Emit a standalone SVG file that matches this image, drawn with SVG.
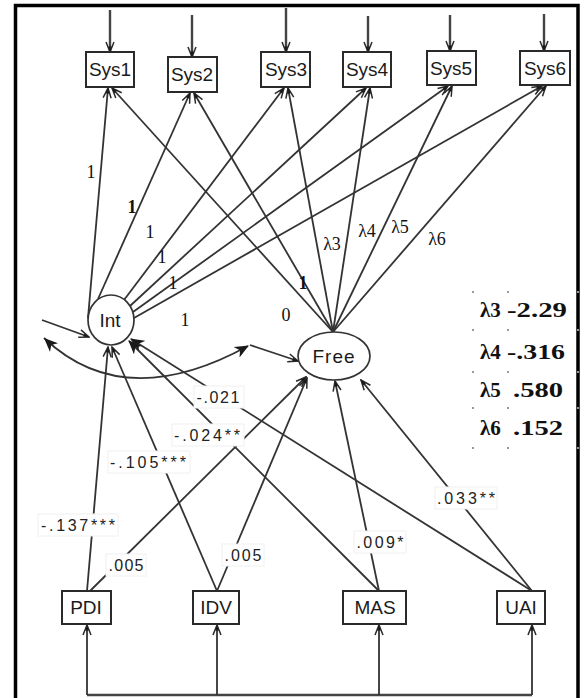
<svg xmlns="http://www.w3.org/2000/svg" width="586" height="698" viewBox="0 0 586 698">
<defs>
<marker id="arr" viewBox="0 0 12 10" refX="11" refY="5" markerWidth="12" markerHeight="10" markerUnits="userSpaceOnUse" orient="auto">
<path d="M1,1 L11,5 L1,9" fill="none" stroke="#2a2a2a" stroke-width="1.5"/>
<path d="M5.5,3.2 L11,5 L5.5,6.8 Z" fill="#1a1a1a"/>
</marker>
<marker id="arrf" viewBox="0 0 14 12" refX="13" refY="6" markerWidth="14" markerHeight="12" markerUnits="userSpaceOnUse" orient="auto">
<path d="M0,0 L14,6 L0,12 L4,6 Z" fill="#1a1a1a"/>
</marker>
<marker id="arrfs" viewBox="0 0 14 12" refX="0" refY="6" markerWidth="14" markerHeight="12" markerUnits="userSpaceOnUse" orient="auto">
<path d="M14,0 L0,6 L14,12 L10,6 Z" fill="#1a1a1a"/>
</marker>
</defs>
<style>
.box{fill:#fff;stroke:#2a2a2a;stroke-width:2}
.ell{fill:#fff;stroke:#333;stroke-width:1.7}
.lbl{font-family:"Liberation Sans",Arial,sans-serif;font-size:19px;fill:#1a1a1a;text-anchor:middle}
.ln{fill:none;stroke:#333;stroke-width:1.8}
.ln2{fill:none;stroke:#444;stroke-width:2.4}
.one{font-family:"Liberation Serif","Times New Roman",serif;font-size:18px;fill:#111;text-anchor:middle}
.coef{font-family:"Liberation Sans",Arial,sans-serif;font-size:16px;fill:#222;text-anchor:middle}
.cbg{fill:#fff;stroke:#f0f0f0;stroke-width:1}
.tbl{font-family:"Liberation Serif","Times New Roman",serif;font-size:21px;font-weight:bold;fill:#111}
.dot{fill:#999}
</style>
<rect x="0" y="0" width="586" height="698" fill="#fff"/>
<path d="M15.5,698 V5.5 H578 V698" fill="none" stroke="#000" stroke-width="3.5"/>

<g id="connectors">
<line class="ln2" x1="110" y1="10" x2="110" y2="52" marker-end="url(#arr)"/>
<line class="ln2" x1="192" y1="15" x2="192" y2="57" marker-end="url(#arr)"/>
<line class="ln2" x1="286" y1="8" x2="286" y2="52" marker-end="url(#arr)"/>
<line class="ln2" x1="368" y1="16" x2="368" y2="52" marker-end="url(#arr)"/>
<line class="ln2" x1="450" y1="15" x2="450" y2="51" marker-end="url(#arr)"/>
<line class="ln2" x1="544" y1="14" x2="544" y2="51" marker-end="url(#arr)"/>
<line class="ln" x1="88" y1="318" x2="108" y2="88" marker-end="url(#arr)"/>
<line class="ln" x1="98" y1="299" x2="190" y2="93" marker-end="url(#arr)"/>
<line class="ln" x1="124" y1="300" x2="284" y2="88" marker-end="url(#arr)"/>
<line class="ln" x1="130" y1="306" x2="366" y2="88" marker-end="url(#arr)"/>
<line class="ln" x1="133" y1="312" x2="448" y2="86" marker-end="url(#arr)"/>
<line class="ln" x1="134" y1="318" x2="542" y2="86" marker-end="url(#arr)"/>
<line class="ln" x1="333" y1="332" x2="112" y2="88" marker-end="url(#arr)"/>
<line class="ln" x1="333" y1="332" x2="194" y2="93" marker-end="url(#arr)"/>
<line class="ln" x1="333" y1="332" x2="288" y2="88" marker-end="url(#arr)"/>
<line class="ln" x1="333" y1="332" x2="370" y2="88" marker-end="url(#arr)"/>
<line class="ln" x1="333" y1="332" x2="452" y2="86" marker-end="url(#arr)"/>
<line class="ln" x1="333" y1="332" x2="546" y2="86" marker-end="url(#arr)"/>
<line class="ln" x1="42" y1="320" x2="89" y2="337" marker-end="url(#arr)"/>
<line class="ln" x1="250" y1="345" x2="298" y2="361" marker-end="url(#arr)"/>
<path class="ln" d="M44,338 Q124,414 248,346" marker-start="url(#arrfs)" marker-end="url(#arrf)"/>
<line class="ln" x1="87" y1="591" x2="108" y2="347" marker-end="url(#arr)"/>
<line class="ln" x1="90" y1="591" x2="306" y2="377" marker-end="url(#arr)"/>
<line class="ln" x1="217" y1="591" x2="112" y2="347" marker-end="url(#arr)"/>
<line class="ln" x1="217" y1="591" x2="307" y2="378" marker-end="url(#arr)"/>
<line class="ln" x1="379" y1="591" x2="129" y2="341" marker-end="url(#arrf)"/>
<line class="ln" x1="379" y1="591" x2="335" y2="381" marker-end="url(#arr)"/>
<line class="ln" x1="532" y1="591" x2="131" y2="339" marker-end="url(#arrf)"/>
<line class="ln" x1="532" y1="591" x2="361" y2="380" marker-end="url(#arr)"/>
<path d="M87,695 H532" fill="none" stroke="#444" stroke-width="2.5"/>
<line class="ln" x1="87" y1="695" x2="87" y2="625" marker-end="url(#arr)"/>
<line class="ln" x1="217" y1="695" x2="217" y2="625" marker-end="url(#arr)"/>
<line class="ln" x1="379" y1="695" x2="379" y2="625" marker-end="url(#arr)"/>
<line class="ln" x1="532" y1="695" x2="532" y2="625" marker-end="url(#arr)"/>
</g>

<g id="labels">
<text class="one" x="91" y="178">1</text>
<text class="one" x="132" y="213" font-weight="bold">1</text>
<text class="one" x="150" y="238">1</text>
<text class="one" x="162" y="263">1</text>
<text class="one" x="173" y="289">1</text>
<text class="one" x="185" y="326">1</text>
<text class="one" x="286" y="321">0</text>
<text class="one" x="303" y="289" font-weight="bold">1</text>
<text class="one" x="332" y="250">λ3</text>
<text class="one" x="367" y="237">λ4</text>
<text class="one" x="400" y="233">λ5</text>
<text class="one" x="437" y="245">λ6</text>

<rect class="cbg" x="194" y="386" width="50" height="22"/>
<text class="coef" x="218" y="403" textLength="43" lengthAdjust="spacing">-.021</text>
<rect class="cbg" x="172" y="424" width="72" height="22"/>
<text class="coef" x="207" y="441" textLength="66" lengthAdjust="spacing">-.024**</text>
<rect class="cbg" x="108" y="451" width="82" height="22"/>
<text class="coef" x="148" y="468" textLength="76" lengthAdjust="spacing">-.105***</text>
<rect class="cbg" x="38" y="514" width="80" height="22"/>
<text class="coef" x="78" y="531" textLength="74" lengthAdjust="spacing">-.137***</text>
<rect class="cbg" x="106" y="554" width="40" height="22"/>
<text class="coef" x="126" y="571" textLength="35" lengthAdjust="spacing">.005</text>
<rect class="cbg" x="222" y="544" width="42" height="22"/>
<text class="coef" x="243" y="561" textLength="37" lengthAdjust="spacing">.005</text>
<rect class="cbg" x="354" y="531" width="52" height="22"/>
<text class="coef" x="380" y="548" textLength="47" lengthAdjust="spacing">.009*</text>
<rect class="cbg" x="435" y="487" width="62" height="22"/>
<text class="coef" x="466" y="504" textLength="58" lengthAdjust="spacing">.033**</text>
</g>

<g id="table">
<text class="tbl" x="480" y="317">λ3</text><text class="tbl" x="507" y="317" textLength="60" lengthAdjust="spacingAndGlyphs">-2.29</text>
<text class="tbl" x="480" y="359">λ4</text><text class="tbl" x="507" y="359" textLength="58" lengthAdjust="spacingAndGlyphs">-.316</text>
<text class="tbl" x="480" y="397">λ5</text><text class="tbl" x="513" y="397" textLength="50" lengthAdjust="spacingAndGlyphs">.580</text>
<text class="tbl" x="480" y="435">λ6</text><text class="tbl" x="513" y="435" textLength="50" lengthAdjust="spacingAndGlyphs">.152</text>
<g class="dot">
<rect x="472" y="291" width="2" height="2"/><rect x="507" y="291" width="2" height="2"/><rect x="577" y="291" width="2" height="2"/>
<rect x="472" y="329" width="2" height="2"/><rect x="507" y="329" width="2" height="2"/><rect x="577" y="329" width="2" height="2"/>
<rect x="472" y="371" width="2" height="2"/><rect x="507" y="371" width="2" height="2"/><rect x="577" y="371" width="2" height="2"/>
<rect x="472" y="407" width="2" height="2"/><rect x="507" y="407" width="2" height="2"/><rect x="577" y="407" width="2" height="2"/>
<rect x="472" y="447" width="2" height="2"/><rect x="507" y="447" width="2" height="2"/><rect x="577" y="447" width="2" height="2"/>
</g>
</g>

<g id="Sys1"><rect class="box" x="86" y="52" width="48" height="35"/><text class="lbl" x="110" y="76" font-size="18">Sys1</text></g>
<g id="Sys2"><rect class="box" x="168" y="57" width="49" height="35"/><text class="lbl" x="192" y="81" font-size="18">Sys2</text></g>
<g id="Sys3"><rect class="box" x="261" y="52" width="49" height="35" stroke-width="2.6"/><text class="lbl" x="286" y="76" font-size="18">Sys3</text></g>
<g id="Sys4"><rect class="box" x="343" y="52" width="48" height="35"/><text class="lbl" x="367" y="76" font-size="18">Sys4</text></g>
<g id="Sys5"><rect class="box" x="427" y="51" width="49" height="34"/><text class="lbl" x="451" y="75" font-size="18">Sys5</text></g>
<g id="Sys6"><rect class="box" x="520" y="51" width="50" height="34"/><text class="lbl" x="545" y="75" font-size="18">Sys6</text></g>

<g id="Int"><ellipse class="ell" cx="111" cy="320" rx="23" ry="25"/><text class="lbl" x="110" y="327">Int</text></g>
<g id="Free"><ellipse class="ell" cx="334" cy="356" rx="36" ry="24"/><text class="lbl" x="334" y="363" font-size="18" letter-spacing="1">Free</text></g>

<g id="PDI"><rect class="box" x="62" y="591" width="49" height="33"/><text class="lbl" x="86" y="614">PDI</text></g>
<g id="IDV"><rect class="box" x="193" y="591" width="46" height="33"/><text class="lbl" x="216" y="614">IDV</text></g>
<g id="MAS"><rect class="box" x="343" y="591" width="63" height="33"/><text class="lbl" x="375" y="614">MAS</text></g>
<g id="UAI"><rect class="box" x="497" y="591" width="48" height="33"/><text class="lbl" x="521" y="614">UAI</text></g>
</svg>
